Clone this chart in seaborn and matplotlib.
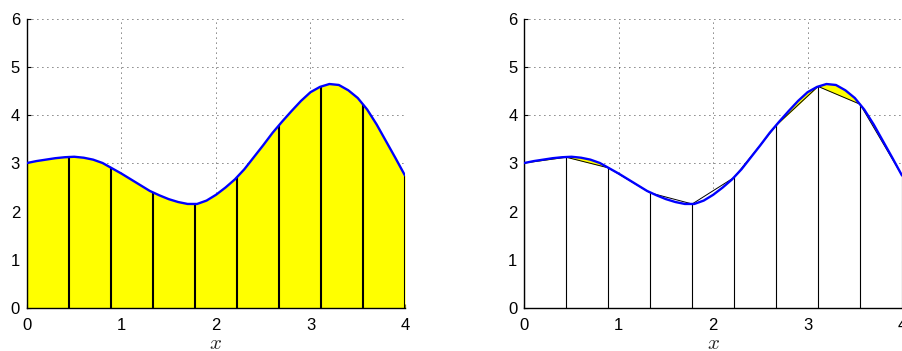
import numpy as np
import pandas as pd
import matplotlib
matplotlib.use("Agg")
import matplotlib.pyplot as plt
import seaborn as sns

# curve f(x), every 0.1
x_curve = [0.0, 0.1, 0.2, 0.3, 0.4, 0.5, 0.6, 0.7, 0.8, 0.9,
           1.0, 1.1, 1.2, 1.3, 1.4, 1.5, 1.6, 1.7, 1.8, 1.9,
           2.0, 2.1, 2.2, 2.3, 2.4, 2.5, 2.6, 2.7, 2.8, 2.9,
           3.0, 3.1, 3.2, 3.3, 3.4, 3.5, 3.6, 3.7, 3.8, 3.9, 4.0]
y_curve = [3.01, 3.05, 3.08, 3.11, 3.13, 3.14, 3.12, 3.08, 3.01, 2.90,
           2.79, 2.67, 2.55, 2.43, 2.34, 2.26, 2.20, 2.16, 2.16, 2.23,
           2.35, 2.50, 2.67, 2.88, 3.13, 3.38, 3.64, 3.87, 4.09, 4.30,
           4.48, 4.59, 4.65, 4.63, 4.52, 4.36, 4.12, 3.81, 3.46, 3.11, 2.75]

# nodes (9 sub-intervals on [0, 4])
x_nodes = [0.0, 0.444, 0.889, 1.333, 1.778, 2.222, 2.667, 3.111, 3.556, 4.0]
y_nodes = [3.01, 3.13, 2.91, 2.39, 2.16, 2.71, 3.79, 4.60, 4.23, 2.75]

x_ticks = [0, 1, 2, 3, 4]
y_ticks = [0, 1, 2, 3, 4, 5, 6]

df = pd.DataFrame({"x": x_curve, "f": y_curve})

sns.set_style("white")
plt.rcParams["font.family"] = ["Liberation Sans", "DejaVu Sans"]
plt.rcParams["mathtext.fontset"] = "cm"

fig = plt.figure(figsize=(9.02, 3.51), dpi=100)
ax1 = fig.add_axes([0.0299, 0.1225, 0.4191, 0.8234])
ax2 = fig.add_axes([0.5813, 0.1225, 0.4187, 0.8234])

# left: area under the curve
ax1.fill_between(x_curve, 0, y_curve, color="#ffff00", lw=0, zorder=1)
ax1.vlines(x_nodes, 0, y_nodes, color="black", lw=1.5, zorder=2)
sns.lineplot(data=df, x="x", y="f", ax=ax1, color="#0000ff", lw=1.7, zorder=3)

# right: trapezoids in white over the yellow area, leaves the error showing
ax2.fill_between(x_curve, 0, y_curve, color="#ffff00", lw=0, zorder=1)
ax2.fill_between(x_nodes, 0, y_nodes, color="white", lw=0, zorder=1.5)
ax2.plot(x_nodes, y_nodes, color="black", lw=0.7, zorder=2)
ax2.vlines(x_nodes, 0, y_nodes, color="black", lw=0.8, zorder=2)
sns.lineplot(data=df, x="x", y="f", ax=ax2, color="#0000ff", lw=1.7, zorder=3)

for ax in (ax1, ax2):
    ax.set_xlim(0, 4)
    ax.set_ylim(0, 6)
    ax.set_xticks(x_ticks)
    ax.set_yticks(y_ticks)
    ax.grid(True, color="black", linestyle=(0, (1, 5)), lw=0.6)
    ax.set_axisbelow(True)
    for s in ("top", "right"):
        ax.spines[s].set_visible(False)
    for s in ("left", "bottom"):
        ax.spines[s].set_color("black")
        ax.spines[s].set_linewidth(1.0)
    ax.tick_params(direction="in", length=3, width=0.8, labelsize=12,
                   colors="black", left=True, bottom=True)
    ax.tick_params(axis="x", pad=7)
    ax.tick_params(axis="y", pad=5)
    ax.set_xlabel("$x$", fontsize=15, labelpad=1)
    ax.set_ylabel("")

fig.savefig("out.png", dpi=100)
